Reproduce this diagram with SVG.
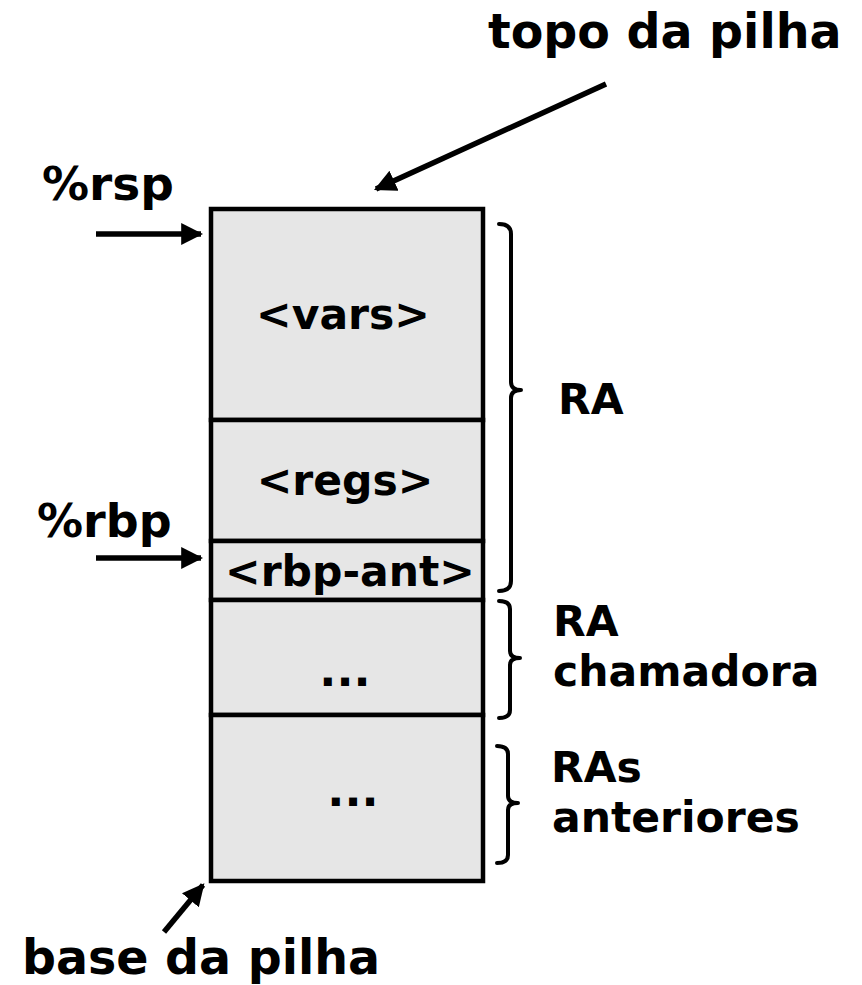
<svg xmlns="http://www.w3.org/2000/svg" width="862" height="985" viewBox="0 0 862 985">
<defs>
<style>
text{font-family:"DejaVu Sans",Verdana,sans-serif;font-weight:bold;fill:#000}
.big{font-size:47.5px}
.med{font-size:42.5px}
.cell{fill:#e6e6e6;stroke:#000;stroke-width:4.5}
.conn{stroke:#000;stroke-width:5.5;fill:none}
.brace{stroke:#000;stroke-width:4;fill:none;stroke-linecap:round;stroke-linejoin:round}
</style>
<marker id="ah" viewBox="0 0 10 10" refX="9" refY="5" markerWidth="4" markerHeight="4" markerUnits="strokeWidth" orient="auto">
<path d="M0,0 L10,5 L0,10 z" fill="#000"/>
</marker>
</defs>
<rect width="862" height="985" fill="#fff"/>
<g id="stack">
<g id="vars"><rect class="cell" x="211" y="209" width="272" height="211"/><text class="med" x="343" y="329" text-anchor="middle">&lt;vars&gt;</text></g>
<g id="regs"><rect class="cell" x="211" y="420" width="272" height="121"/><text class="med" x="345" y="495" text-anchor="middle">&lt;regs&gt;</text></g>
<g id="rbp-ant"><rect class="cell" x="211" y="541" width="272" height="59"/><text class="med" x="350" y="586" text-anchor="middle">&lt;rbp-ant&gt;</text></g>
<g id="caller"><rect class="cell" x="211" y="600" width="272" height="115"/><text class="med" x="345" y="686" text-anchor="middle" style="font-size:45px">...</text></g>
<g id="previous"><rect class="cell" x="211" y="715" width="272" height="166"/><text class="med" x="353" y="806" text-anchor="middle" style="font-size:45px">...</text></g>
</g>
<g id="labels">
<text class="big" x="488" y="48">topo da pilha</text>
<text class="big" x="42" y="200" style="font-size:47px">%rsp</text>
<text class="big" x="37" y="537" style="font-size:46px">%rbp</text>
<text class="big" x="22" y="974">base da pilha</text>
<text class="med" x="558" y="414">RA</text>
<text class="med" x="553" y="636">RA</text>
<text class="med" x="553" y="686">chamadora</text>
<text class="med" x="551" y="782">RAs</text>
<text class="med" x="552" y="832">anteriores</text>
</g>
<g id="connectors">
<line class="conn" x1="96" y1="234" x2="201" y2="234" marker-end="url(#ah)"/>
<line class="conn" x1="96" y1="558" x2="201" y2="558" marker-end="url(#ah)"/>
<line class="conn" x1="606" y1="84" x2="376" y2="189" marker-end="url(#ah)"/>
<line class="conn" x1="164" y1="932" x2="203" y2="885" marker-end="url(#ah)"/>
<path class="brace" d="M499,224 Q511,224 511,234 L511,382 Q511,390 521,390 Q511,390 511,398 L511,581 Q511,591 499,591"/>
<path class="brace" d="M499,601 Q510,601 510,609 L510,651 Q510,658 520,658 Q510,658 510,665 L510,710 Q510,718 499,718"/>
<path class="brace" d="M497,746 Q508,746 508,754 L508,796 Q508,803 518,803 Q508,803 508,810 L508,855 Q508,863 497,863"/>
</g>
</svg>
